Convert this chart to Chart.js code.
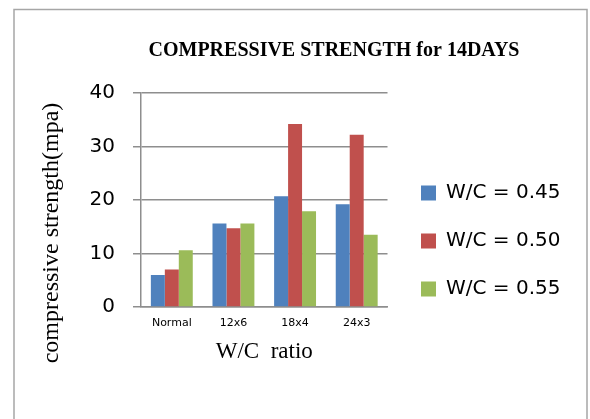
<!DOCTYPE html>
<html>
<head>
<meta charset="utf-8">
<script src="https://cdn.jsdelivr.net/npm/chart.js@4.4.0/dist/chart.umd.min.js"></script>
<style>
  html, body { margin: 0; padding: 0; background: #fff; }
  canvas { display: block; }
</style>
</head>
<body>
<canvas id="c" width="590" height="419"></canvas>
<script>
const categories = ['Normal', '12x6', '18x4', '24x3'];
const seriesNames = ['W/C = 0.45', 'W/C = 0.50', 'W/C = 0.55'];
const wc045 = [6.0, 15.6, 20.7, 19.2];
const wc050 = [7.0, 14.7, 34.2, 32.2];
const wc055 = [10.6, 15.6, 17.9, 13.5];
const yTicks = [0, 10, 20, 30, 40];
const chartTitle = 'COMPRESSIVE STRENGTH for 14DAYS';
const yTitle = 'compressive strength(mpa)';
const xTitle = 'W/C  ratio';

const colors = ['#4F81BD', '#C0504D', '#9BBB59'];
const gridColor = '#8e8e8e';

const decorPlugin = {
  id: 'decor',
  afterInit(chart) {
    const lg = chart.legend;
    if (lg && !lg._patched) {
      const origUpdate = lg.update;
      lg.update = function(mw, mh, m) { return origUpdate.call(this, 240, mh, m); };
      lg._patched = true;
    }
  },
  beforeDraw(chart) {
    const ctx = chart.ctx;
    ctx.save();
    ctx.fillStyle = '#fff';
    ctx.fillRect(0, 0, chart.width, chart.height);
    ctx.strokeStyle = '#a6a6a6';
    ctx.lineWidth = 1.5;
    ctx.strokeRect(14, 9.5, 573, 430);
    ctx.restore();
  },
  afterLayout(chart) {
    const lg = chart.legend;
    if (!lg) return;
    const dx = 393 - lg.left;
    lg.left += dx; lg.right += dx;
    const dy = (482 - (lg.top + lg.bottom)) / 2;
    lg.top += dy; lg.bottom += dy;
  },
  afterDraw(chart) {
    const ctx = chart.ctx;
    ctx.save();
    ctx.fillStyle = '#000';
    ctx.textAlign = 'center';
    ctx.textBaseline = 'alphabetic';
    ctx.font = 'bold 20px "Liberation Serif"';
    ctx.fillText(chartTitle, 334, 56);
    ctx.translate(58, 233);
    ctx.rotate(-Math.PI / 2);
    ctx.font = '24px "Liberation Serif"';
    ctx.fillText(yTitle, 0, 0);
    ctx.restore();
  }
};

new Chart(document.getElementById('c'), {
  type: 'bar',
  data: {
    labels: categories,
    datasets: [
      { label: seriesNames[0], data: wc045, backgroundColor: colors[0] },
      { label: seriesNames[1], data: wc050, backgroundColor: colors[1] },
      { label: seriesNames[2], data: wc055, backgroundColor: colors[2] }
    ]
  },
  options: {
    responsive: false,
    animation: false,
    devicePixelRatio: 1,
    layout: { padding: { top: 93, bottom: 52, left: 0, right: 25 } },
    datasets: { bar: { barPercentage: 1.0, categoryPercentage: 0.68, borderWidth: 0 } },
    plugins: {
      legend: {
        position: 'right',
        labels: {
          boxWidth: 15,
          boxHeight: 15,
          padding: 28,
          color: '#000',
          font: { family: '"DejaVu Sans"', size: 20 }
        }
      },
      title: { display: false },
      tooltip: { enabled: false }
    },
    scales: {
      x: {
        grid: { display: false, drawTicks: false },
        border: { display: true, color: gridColor, width: 1.5 },
        ticks: { color: '#000', padding: 10, font: { family: '"DejaVu Sans"', size: 11 }, maxRotation: 0 },
        title: {
          display: true, text: xTitle, color: '#000',
          font: { family: '"Liberation Serif"', size: 23 },
          padding: { top: 0, bottom: 1 }
        },
        afterFit(s) { s.height = 60; s.paddingLeft = 0; s.paddingRight = 0; }
      },
      y: {
        min: 0, max: 40,
        afterBuildTicks(s) { s.ticks = yTicks.map(v => ({ value: v })); },
        grid: { color: gridColor, lineWidth: 1.5, tickLength: 8, drawTicks: true },
        border: { display: true, color: gridColor, width: 1.5 },
        ticks: { color: '#000', padding: 18, font: { family: '"DejaVu Sans"', size: 20 } },
        afterFit(s) { s.width = 141; s.paddingTop = 0; s.paddingBottom = 0; }
      }
    }
  },
  plugins: [decorPlugin]
});
</script>
</body>
</html>
